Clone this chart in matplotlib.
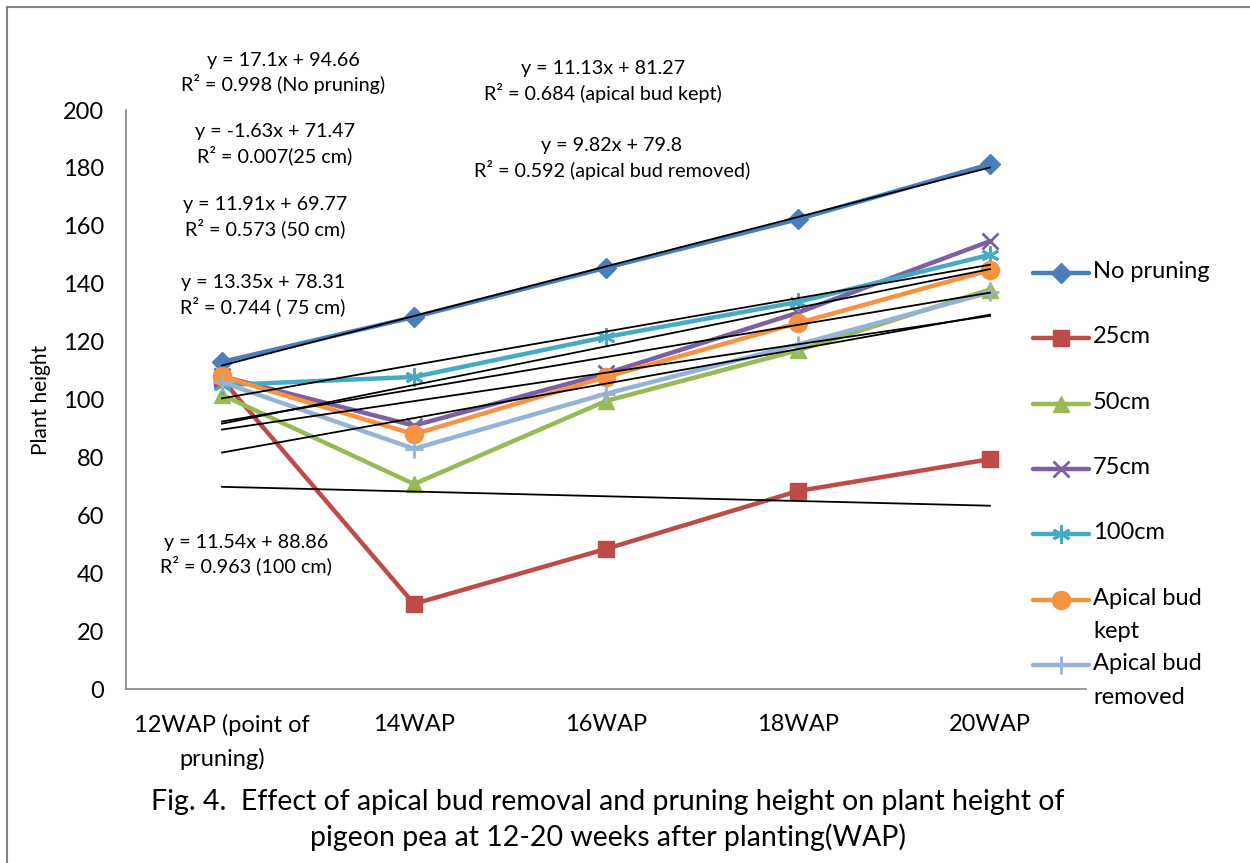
import matplotlib
matplotlib.use("Agg")
import matplotlib.pyplot as plt
from matplotlib.patches import Rectangle
from matplotlib.lines import Line2D

plt.rcParams['font.family'] = ['Lato', 'DejaVu Sans']

# categories on x axis
weeks = ['12WAP (point of\npruning)', '14WAP', '16WAP', '18WAP', '20WAP']

# plant height values
no_pruning = [113, 128.5, 145.5, 162.3, 181.3]
cm25 = [107, 29.4, 48.4, 68.4, 79.4]
cm50 = [101.6, 70.8, 99.5, 117, 138]
cm75 = [108, 91, 109, 130, 154.7]
cm100 = [105, 107.8, 121.6, 133.7, 150]
bud_kept = [108, 88, 107.8, 126.4, 144.7]
bud_removed = [106, 83, 102, 119, 137]

# trendline equations as printed on the chart (x = 1..5)
trend_slope = [17.1, -1.63, 11.91, 13.35, 11.54, 11.13, 9.82]
trend_icpt = [94.66, 71.47, 69.77, 78.31, 88.86, 81.27, 79.8]

labels = ['No pruning', '25cm', '50cm', '75cm', '100cm',
          'Apical bud\nkept', 'Apical bud\nremoved']
series = [no_pruning, cm25, cm50, cm75, cm100, bud_kept, bud_removed]
colors = ['#4A7EBB', '#BE4B48', '#98B954', '#7D60A0', '#46AAC5',
          '#F69240', '#95B3D7']
markers = ['D', 's', '^', 'x', (6, 2, 0), 'o', '+']
msizes = [10, 11, 11, 12, 13, 13, 13]

W, H = 1250, 863
fig = plt.figure(figsize=(12.5, 8.63), dpi=100)
ax = fig.add_axes([0.1008, 0.2016, 0.768, 0.6709])

xs = list(range(len(weeks)))
styles = []
for vals, lab, c, m, ms in zip(series, labels, colors, markers, msizes):
    st = dict(color=c, lw=3.2, marker=m, markersize=ms,
              markeredgewidth=2 if m in ('x', '+', (6, 2, 0)) else 1,
              markeredgecolor=c, solid_capstyle='round')
    styles.append(st)
    ax.plot(xs, vals, **st)

# linear trendlines (black)
for k, b in zip(trend_slope, trend_icpt):
    tx = [xs[0], xs[-1]]
    ty = [k * (x + 1) + b for x in tx]
    ax.plot(tx, ty, color='black', lw=1.3, zorder=5)

ax.set_xlim(-0.5, 4.5)
ax.set_ylim(0, 200)
ax.set_yticks(range(0, 201, 20))
ax.set_xticks(xs)
ax.set_xticklabels(weeks, fontsize=17, linespacing=1.65)
ax.tick_params(axis='y', length=0, pad=16, labelsize=17)
ax.tick_params(axis='x', length=0, pad=18)
for s in ['top', 'right']:
    ax.spines[s].set_visible(False)
for s in ['left', 'bottom']:
    ax.spines[s].set_color('#868686')
    ax.spines[s].set_linewidth(1.2)
ax.set_ylabel('Plant height', fontsize=15, labelpad=8)

# legend, laid out like the Excel one (fixed slot per entry)
leg_top, leg_step = 273, 65.3
for i, (lab, st) in enumerate(zip(labels, styles)):
    yy = 1 - (leg_top + i * leg_step) / H
    fig.add_artist(Line2D([1033 / W, 1089 / W], [yy, yy],
                          transform=fig.transFigure, markevery=[], **st))
    fig.add_artist(Line2D([1061 / W], [yy], transform=fig.transFigure,
                          linestyle='none', marker=st['marker'],
                          markersize=st['markersize'], color=st['color'],
                          markeredgewidth=st['markeredgewidth']))
    fig.text(1093 / W, yy + 12 / H, lab, ha='left', va='top', fontsize=17,
             linespacing=1.75)

# trendline equation labels (centre x, first line y, second line y)
eqs = [
    (283, 60, 86, 'y = 17.1x + 94.66\nR² = 0.998 (No pruning)'),
    (603, 68, 95, 'y = 11.13x + 81.27\nR² = 0.684 (apical bud kept)'),
    (275, 131, 157, 'y = -1.63x + 71.47\nR² = 0.007(25 cm)'),
    (612, 145, 172, 'y = 9.82x + 79.8\nR² = 0.592 (apical bud removed)'),
    (265, 204, 230, 'y = 11.91x + 69.77\nR² = 0.573 (50 cm)'),
    (263, 282, 308, 'y = 13.35x + 78.31\nR² = 0.744 ( 75 cm)'),
    (246, 542, 567, 'y = 11.54x + 88.86\nR² = 0.963 (100 cm)'),
]
for px, py1, py2, t in eqs:
    fig.text(px / W, 1 - (py1 + py2) / 2 / H, t, ha='center', va='center',
             fontsize=14.2, linespacing=1.3)

fig.text(608 / W, 1 - 820 / H,
         'Fig. 4.  Effect of apical bud removal and pruning height on plant height of\n'
         'pigeon pea at 12-20 weeks after planting(WAP)',
         ha='center', va='center', fontsize=20.5, linespacing=1.35)

# outer chart border
fig.add_artist(Rectangle((7 / W, -0.1), 1.2, 1.1 - 7 / H,
                         transform=fig.transFigure, fill=False,
                         edgecolor='#868686', lw=1.5))

fig.savefig('out.png', dpi=100)
